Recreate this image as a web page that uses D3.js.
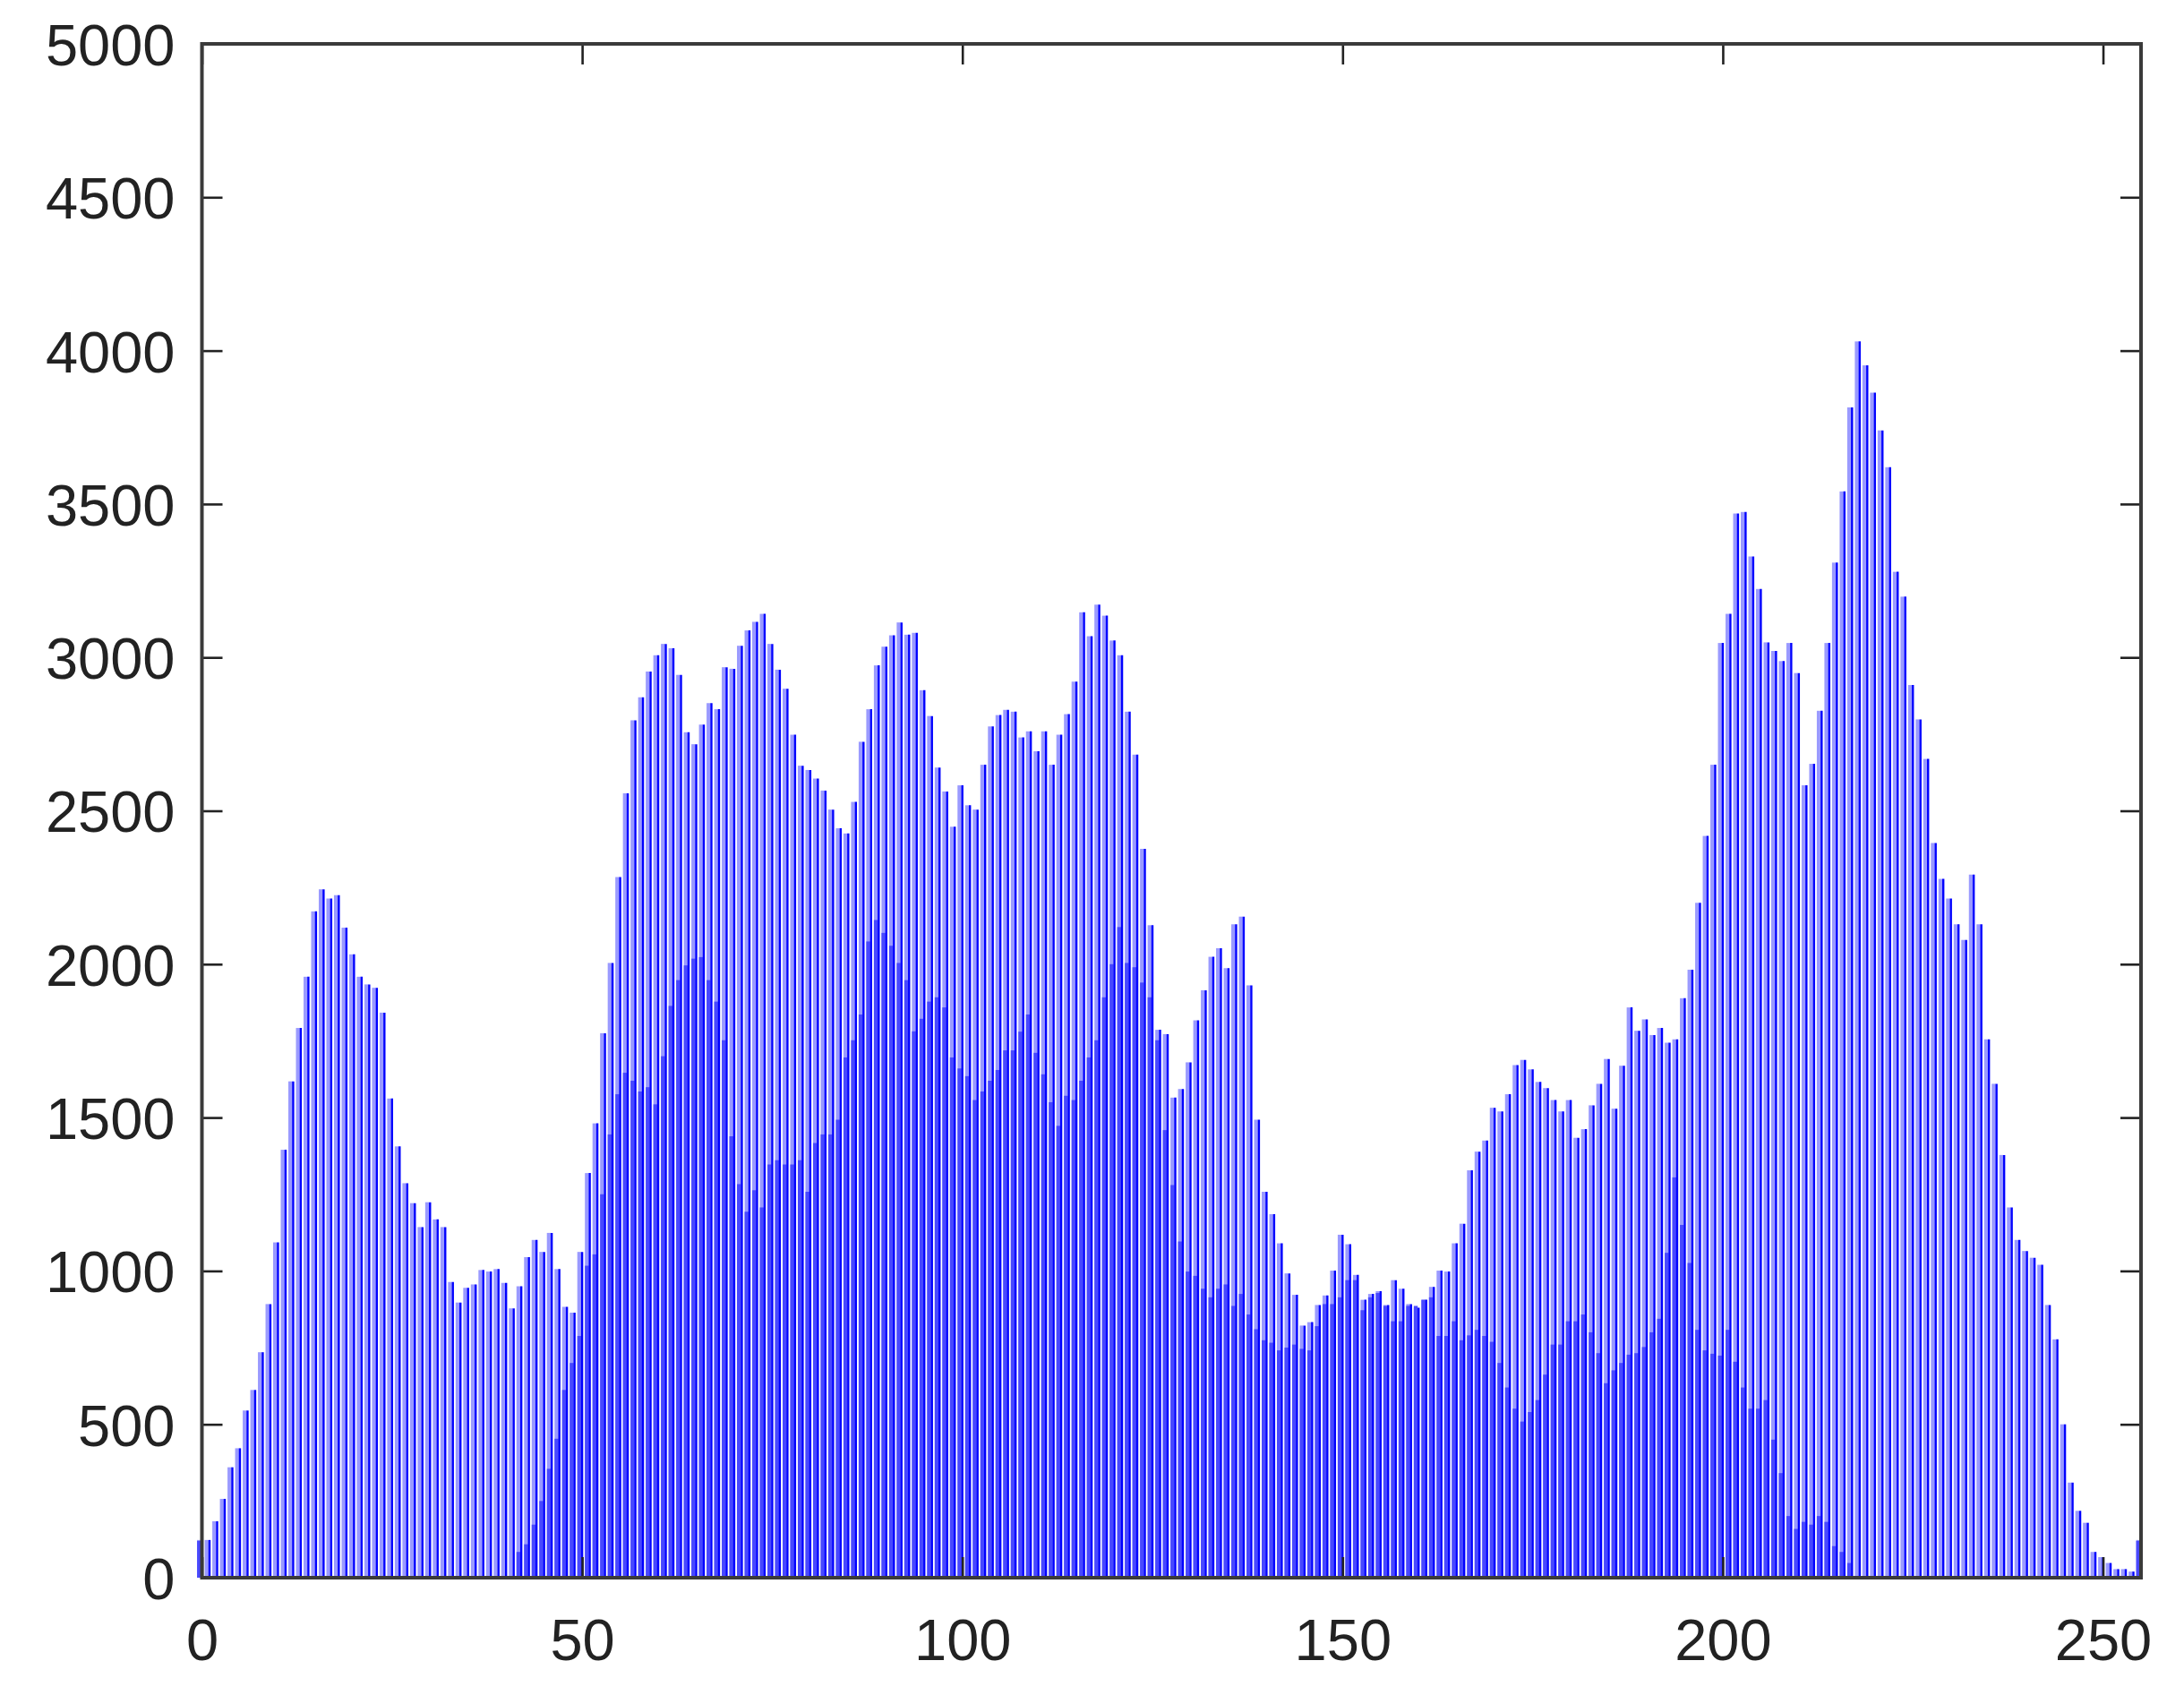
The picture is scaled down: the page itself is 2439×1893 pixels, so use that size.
<!DOCTYPE html>
<html>
<head>
<meta charset="utf-8">
<script src="https://cdnjs.cloudflare.com/ajax/libs/d3/7.8.5/d3.min.js"></script>
<style>
    body { margin: 0; background: #fff; }
    .tick text { font-family: "Liberation Sans", Arial, sans-serif; fill: #222; }
</style>
</head>
<body>
<div id="hist-area"></div>
<script>
// pixel counts per grey level 0..255
var counts = [
    123, 123, 184, 257, 360, 422, 545, 612, 735, 892,
    1093, 1395, 1618, 1792, 1959, 2172, 2244, 2214, 2225, 2119,
    2032, 1959, 1934, 1923, 1842, 1562, 1406, 1286, 1221, 1143,
    1224, 1168, 1143, 964, 897, 945, 956, 1003, 998, 1006,
    961, 878, 950, 1045, 1101, 1062, 1124, 1006, 883, 864,
    1062, 1319, 1481, 1775, 2004, 2284, 2557, 2795, 2870, 2954,
    3007, 3044, 3030, 2943, 2756, 2717, 2781, 2851, 2831, 2968,
    2963, 3038, 3088, 3116, 3142, 3044, 2960, 2898, 2748, 2647,
    2633, 2605, 2566, 2504, 2443, 2426, 2529, 2725, 2831, 2974,
    3035, 3072, 3114, 3074, 3080, 2893, 2809, 2641, 2563, 2448,
    2583, 2518, 2504, 2650, 2775, 2812, 2829, 2823, 2739, 2759,
    2694, 2759, 2650, 2748, 2815, 2921, 3147, 3069, 3172, 3136,
    3055, 3007, 2823, 2683, 2376, 2127, 1786, 1772, 1565, 1593,
    1680, 1817, 1915, 2024, 2052, 1987, 2130, 2155, 1931, 1493,
    1258, 1185, 1090, 992, 922, 822, 833, 889, 920, 1001,
    1118, 1087, 987, 906, 925, 934, 889, 970, 942, 892,
    880, 906, 948, 1001, 998, 1090, 1154, 1328, 1389, 1425,
    1532, 1520, 1576, 1671, 1688, 1657, 1616, 1596, 1557, 1520,
    1557, 1434, 1462, 1540, 1610, 1691, 1529, 1669, 1859, 1783,
    1820, 1769, 1792, 1744, 1755, 1889, 1982, 2200, 2418, 2650,
    3047, 3142, 3469, 3474, 3329, 3223, 3049, 3021, 2988, 3047,
    2949, 2583, 2653, 2826, 3047, 3309, 3541, 3815, 4030, 3952,
    3863, 3740, 3620, 3279, 3198, 2910, 2798, 2669, 2395, 2278,
    2214, 2130, 2079, 2292, 2130, 1755, 1610, 1378, 1207, 1101,
    1065, 1043, 1020, 889, 777, 500, 310, 218, 179, 84,
    67, 48, 28, 28, 20, 123
];

// the darker band seen at the foot of the stems
var darkCounts = [
    120, 0, 0, 0, 0, 0, 0, 0, 0, 0,
    0, 0, 0, 0, 0, 0, 0, 0, 0, 0,
    0, 0, 0, 0, 0, 0, 0, 0, 0, 0,
    0, 0, 0, 0, 0, 0, 0, 0, 0, 0,
    0, 0, 84, 109, 173, 250, 355, 453, 612, 700,
    788, 1017, 1054, 1250, 1445, 1576, 1646, 1620, 1585, 1599,
    1543, 1700, 1864, 1948, 1996, 2018, 2023, 1948, 1878, 1752,
    1439, 1283, 1193, 1263, 1207, 1347, 1361, 1347, 1347, 1361,
    1258, 1417, 1445, 1445, 1493, 1696, 1752, 1836, 2074, 2144,
    2102, 2060, 2004, 1948, 1781, 1822, 1878, 1892, 1859, 1696,
    1660, 1635, 1557, 1585, 1620, 1655, 1719, 1719, 1780, 1836,
    1711, 1641, 1550, 1473, 1571, 1557, 1620, 1696, 1752, 1892,
    2000, 2121, 2004, 1990, 1940, 1892, 1752, 1459, 1280, 1096,
    998, 984, 942, 914, 942, 956, 886, 925, 858, 810,
    774, 766, 741, 750, 760, 746, 741, 820, 892, 892,
    914, 970, 970, 872, 914, 928, 886, 836, 836, 886,
    886, 906, 914, 788, 788, 836, 774, 790, 808, 788,
    769, 700, 620, 551, 509, 540, 579, 662, 760, 760,
    836, 836, 858, 800, 732, 634, 676, 700, 727, 732,
    752, 800, 844, 1059, 1305, 1150, 1026, 808, 741, 730,
    724, 808, 704, 620, 551, 551, 579, 450, 341, 201,
    159, 182, 173, 201, 182, 103, 84, 48, 0, 0,
    0, 0, 0, 0, 0, 0, 0, 0, 0, 0,
    0, 0, 0, 0, 0, 0, 0, 0, 0, 0,
    0, 0, 0, 0, 0, 0, 0, 0, 0, 0,
    0, 0, 0, 0, 0, 120
];

var xTicks = [0, 50, 100, 150, 200, 250];
var yTicks = [0, 500, 1000, 1500, 2000, 2500, 3000, 3500, 4000, 4500, 5000];

function Histogram(_parentElement, _counts, _dark) {
    this.parentElement = _parentElement;
    this.counts = _counts;
    this.dark = _dark;
    this.initVis();
}

Histogram.prototype.initVis = function () {
    var vis = this;

    vis.margin = { top: 49, right: 48, bottom: 131, left: 225.5 };
    vis.width = 2439 - vis.margin.left - vis.margin.right;
    vis.height = 1893 - vis.margin.top - vis.margin.bottom;

    vis.svg = d3.select("#" + vis.parentElement).append("svg")
        .attr("width", 2439)
        .attr("height", 1893)
        .append("g")
        .attr("transform", "translate(" + vis.margin.left + "," + vis.margin.top + ")");

    vis.x = d3.scaleLinear()
        .domain([0, 255])
        .range([0, vis.width]);

    vis.y = d3.scaleLinear()
        .domain([0, 5000])
        .range([vis.height, 0]);

    vis.updateVis();
}

Histogram.prototype.updateVis = function () {
    var vis = this;

    var bins = vis.counts.map(function (c, i) {
        return { level: i, count: c, dark: vis.dark[i] };
    });

    // light band to the left of each stem
    vis.svg.selectAll(".band")
        .data(bins)
        .enter()
        .append("rect")
        .attr("class", "band")
        .attr("x", function (d) { return vis.x(d.level) - 5.4; })
        .attr("width", 4.4)
        .attr("y", function (d) { return vis.y(d.count); })
        .attr("height", function (d) { return vis.height - vis.y(d.count); })
        .attr("fill", "#9a9aff");

    vis.svg.selectAll(".darkband")
        .data(bins)
        .enter()
        .append("rect")
        .attr("class", "darkband")
        .attr("x", function (d) { return vis.x(d.level) - 5.4; })
        .attr("width", 4.4)
        .attr("y", function (d) { return vis.y(d.dark); })
        .attr("height", function (d) { return vis.height - vis.y(d.dark); })
        .attr("fill", "#4848ff");

    // the stems themselves
    vis.svg.selectAll(".stem")
        .data(bins)
        .enter()
        .append("line")
        .attr("class", "stem")
        .attr("x1", function (d) { return vis.x(d.level); })
        .attr("x2", function (d) { return vis.x(d.level); })
        .attr("y1", vis.height)
        .attr("y2", function (d) { return vis.y(d.count); })
        .attr("stroke", "#0000ff")
        .attr("stroke-width", 2.4);

    // axes, ticks pointing inwards on all four sides
    var tickLen = 23;
    var fmt = d3.format("d");

    var left = vis.svg.append("g")
        .call(d3.axisLeft(vis.y).tickValues(yTicks).tickFormat(fmt)
            .tickSizeInner(-tickLen).tickSizeOuter(0).tickPadding(30));
    left.selectAll("text").style("font-size", "65px").attr("dy", "0.36em");

    vis.svg.append("g")
        .attr("transform", "translate(" + vis.width + ",0)")
        .call(d3.axisRight(vis.y).tickValues(yTicks).tickSizeInner(-tickLen).tickSizeOuter(0).tickFormat(""));

    var bottom = vis.svg.append("g")
        .attr("transform", "translate(0," + vis.height + ")")
        .call(d3.axisBottom(vis.x).tickValues(xTicks).tickFormat(fmt)
            .tickSizeInner(-tickLen).tickSizeOuter(0).tickPadding(46));
    bottom.selectAll("text").style("font-size", "65px");

    vis.svg.append("g")
        .call(d3.axisTop(vis.x).tickValues(xTicks).tickSizeInner(-tickLen).tickSizeOuter(0).tickFormat(""));

    vis.svg.selectAll(".tick line")
        .attr("stroke", "#222")
        .attr("stroke-width", 2.6);
    vis.svg.selectAll(".domain").remove();

    vis.svg.append("rect")
        .attr("x", 0)
        .attr("y", 0)
        .attr("width", vis.width)
        .attr("height", vis.height)
        .attr("fill", "none")
        .attr("stroke", "#3a3a3a")
        .attr("stroke-width", 4);
}

var hist = new Histogram("hist-area", counts, darkCounts);
</script>
</body>
</html>
